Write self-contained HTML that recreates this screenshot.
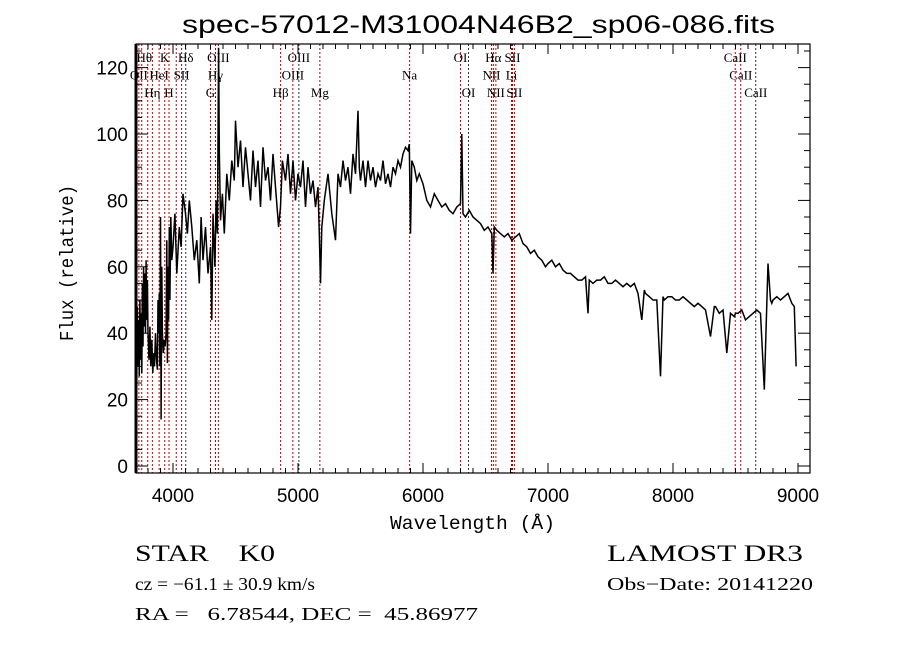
<!DOCTYPE html>
<html><head><meta charset="utf-8"><style>
html,body{margin:0;padding:0;background:#fff;}
svg{display:block;}
text{fill:#000;white-space:pre;}
</style></head><body>
<svg id="chart" width="900" height="649" viewBox="0 0 900 649" xmlns="http://www.w3.org/2000/svg" xml:space="preserve">
<rect width="900" height="649" fill="#fff"/>
<text x="182" y="33" font-family="Liberation Sans, sans-serif" font-size="25" textLength="593" lengthAdjust="spacingAndGlyphs">spec-57012-M31004N46B2_sp06-086.fits</text>
<g id="lines"></g>
<g id="spec"></g>
<g id="axes"></g>
<text x="390" y="529" font-family="Liberation Mono, monospace" font-size="19" textLength="165" lengthAdjust="spacingAndGlyphs">Wavelength (Å)</text>
<text transform="translate(73,341) rotate(-90)" font-family="Liberation Mono, monospace" font-size="19" textLength="156" lengthAdjust="spacingAndGlyphs">Flux (relative)</text>
<text x="135" y="561" font-family="Liberation Serif, serif" font-size="23" textLength="140" lengthAdjust="spacingAndGlyphs">STAR    K0</text>
<text x="607" y="561" font-family="Liberation Serif, serif" font-size="23" textLength="196" lengthAdjust="spacingAndGlyphs">LAMOST DR3</text>
<text x="135" y="590" font-family="Liberation Serif, serif" font-size="18" textLength="180" lengthAdjust="spacingAndGlyphs">cz = −61.1 ± 30.9 km/s</text>
<text x="607" y="590" font-family="Liberation Serif, serif" font-size="18" textLength="206" lengthAdjust="spacingAndGlyphs">Obs−Date: 20141220</text>
<text x="135" y="620" font-family="Liberation Serif, serif" font-size="18" textLength="343" lengthAdjust="spacingAndGlyphs">RA =   6.78544, DEC =  45.86977</text>
</svg>
<script>
const waves = [3700,3703,3706,3710,3715,3720,3725,3730,3735,3740,3745,3750,3755,3760,3765,3770,3775,3780,3785,3790,3795,3800,3808,3815,3822,3830,3838,3845,3852,3860,3868,3875,3880,3885,3890,3895,3900,3905,3910,3915,3922,3930,3937,3945,3950,3955,3960,3965,3970,3975,3982,3990,4000,4015,4030,4050,4065,4080,4100,4115,4130,4150,4170,4190,4210,4225,4240,4260,4280,4300,4310,4320,4335,4345,4355,4365,4370,4380,4395,4410,4430,4450,4470,4490,4500,4520,4540,4560,4580,4600,4620,4640,4660,4680,4700,4720,4740,4760,4780,4800,4820,4845,4860,4875,4900,4920,4940,4960,4980,5000,5020,5040,5060,5080,5100,5120,5140,5160,5170,5180,5190,5210,5240,5270,5300,5320,5340,5360,5380,5400,5420,5440,5460,5480,5490,5500,5520,5540,5560,5580,5600,5620,5640,5660,5680,5700,5720,5740,5760,5780,5800,5820,5840,5860,5880,5890,5900,5910,5930,5950,5970,6000,6030,6060,6090,6120,6150,6180,6210,6240,6270,6300,6310,6320,6340,6370,6400,6430,6460,6490,6520,6550,6560,6570,6590,6620,6650,6680,6710,6740,6770,6800,6830,6860,6890,6920,6950,6980,7000,7030,7060,7090,7120,7150,7180,7210,7240,7270,7300,7320,7330,7360,7390,7420,7450,7480,7510,7540,7570,7600,7630,7660,7690,7720,7750,7770,7780,7810,7840,7870,7900,7920,7930,7960,7990,8020,8050,8080,8110,8140,8170,8200,8230,8260,8300,8330,8340,8370,8400,8430,8460,8490,8500,8520,8550,8580,8610,8640,8670,8700,8730,8760,8780,8790,8800,8830,8860,8890,8920,8950,8970,8985,8995,9000];
const flux = [2,22,40,26,48,30,44,27,50,32,46,28,55,36,60,42,58,40,62,44,56,40,32,42,30,38,28,34,30,40,32,29,50,40,52,30,75,14,60,40,34,38,36,40,68,31,60,44,72,50,75,62,66,76,58,72,66,82,76,70,80,72,62,68,55,75,62,72,58,66,44,76,60,80,70,126,95,74,82,70,88,80,92,86,104,90,98,84,96,88,80,95,84,92,78,96,86,90,80,94,84,72,78,92,86,94,82,92,80,88,84,92,78,90,82,86,78,84,70,55,72,80,88,76,68,88,84,92,86,90,82,94,88,107,90,86,92,84,92,86,90,84,88,86,92,85,88,84,90,88,92,90,94,96,95,97,70,92,90,86,88,85,80,78,82,80,78,79,77,76,78,79,100,76,75,77,75,74,73,71,72,70,58,72,71,70,69,70,68,69,70,67,66,64,65,63,62,60,61,62,60,61,59,58,58,57,56,56,57,46,56,55,56,56,57,55,55,56,55,54,55,54,55,52,44,53,52,51,50,50,27,51,50,51,51,50,50,51,50,49,48,49,48,47,39,48,48,46,47,34,46,45,46,46,47,44,45,46,47,46,23,61,50,49,50,51,50,51,52,49,48,30];
const lineWaves = [3727,3750,3798,3835,3889,3934,3968,4026,4069,4102,4300,4340,4363,4861,4959,5007,5175,5893,6300,6364,6548,6563,6583,6708,6716,6731,8498,8542,8662];
const labelTexts = ["OII","H\u03B8","HeI","H\u03B7","K","H","SII","H\u03B4","G","H\u03B3","OIII","H\u03B2","OIII","OIII","Mg","Na","OI","OI","NII","H\u03B1","NII","SII","Li","SII","CaII","CaII","CaII"];
const labelWaves = [3727,3770,3889,3835,3934,3968,4069,4102,4300,4340,4363,4861,4959,5007,5175,5893,6300,6364,6548,6563,6583,6716,6708,6731,8498,8542,8662];
const labelRows = [1,0,1,2,0,2,1,0,2,1,0,2,1,0,2,1,0,2,1,0,2,0,1,2,0,1,2];
const xTicks = [4000,5000,6000,7000,8000,9000];
const yTicks = [0,20,40,60,80,100,120];

const NS="http://www.w3.org/2000/svg";
const X0=136,X1=810,Y0=44,Y1=473;
function xs(w){return 173+(w-4000)*0.125;}
function ys(f){return 466-f*3.32;}
function mk(tag,attrs,parent){const e=document.createElementNS(NS,tag);for(const k in attrs)e.setAttribute(k,attrs[k]);parent.appendChild(e);return e;}

const lines=document.getElementById('lines');
lineWaves.forEach(w=>{
  const l=mk('line',{x1:xs(w),x2:xs(w),y1:Y0,y2:Y1,stroke:(w===4069||w===4102||w===5007||w===6364||w===8662)?'#333':'#c00000','stroke-width':1,'stroke-dasharray':'2,2'},lines);
  
  
});
labelTexts.forEach((t,i)=>{
  const e=mk('text',{x:xs(labelWaves[i]),y:62+labelRows[i]*17.5,'text-anchor':'middle','font-family':'Liberation Serif, serif','font-size':13},lines);
  e.textContent=t;
  
  
});

const spec=document.getElementById('spec');
let d='';
waves.forEach((w,i)=>{d+=(i?'L':'M')+xs(w).toFixed(1)+','+Math.max(Y0,ys(flux[i])).toFixed(1);});
const p=mk('path',{d:d,fill:'none',stroke:'#000','stroke-width':1.5,'stroke-linejoin':'miter'},spec);



const ax=document.getElementById('axes');
const fr=mk('rect',{x:X0,y:Y0,width:X1-X0,height:Y1-Y0,fill:'none',stroke:'#000','stroke-width':1.2},ax);


mk('line',{x1:X0,x2:X0,y1:Y0,y2:Y1,stroke:'#000','stroke-width':3},ax);
for(let w=3800;w<=9000;w+=100){
  const big=w%1000===0;const L=big?10:5;
  mk('line',{x1:xs(w),x2:xs(w),y1:Y1,y2:Y1-L,stroke:'#000'},ax);
  mk('line',{x1:xs(w),x2:xs(w),y1:Y0,y2:Y0+L,stroke:'#000'},ax);
}
for(let f=0;f<=125;f+=5){
  const big=f%20===0;const L=big?12:6;
  mk('line',{x1:X0,x2:X0+L,y1:ys(f),y2:ys(f),stroke:'#000'},ax);
  mk('line',{x1:X1,x2:X1-L,y1:ys(f),y2:ys(f),stroke:'#000'},ax);
}
xTicks.forEach(w=>{
  const t=mk('text',{x:xs(w),y:502,'text-anchor':'middle','font-family':'Liberation Sans, sans-serif','font-size':19},ax);
  t.textContent=w;
  
  
});
yTicks.forEach(f=>{
  const t=mk('text',{x:128,y:ys(f)+7,'text-anchor':'end','font-family':'Liberation Sans, sans-serif','font-size':19},ax);
  t.textContent=f;
  
  
});
</script>
</body></html>
